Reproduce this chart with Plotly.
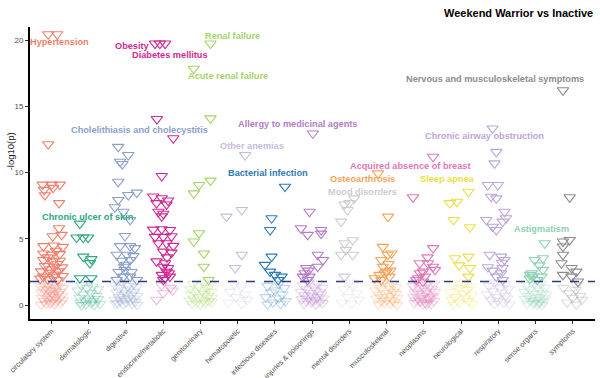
import plotly.graph_objects as go

# ---------------- data ----------------
categories = ["circulatory system", "dermatologic", "digestive", "endocrine/metabolic",
              "genitourinary", "hematopoietic", "infectious diseases", "injuries & poisonings",
              "mental disorders", "musculoskeletal", "neoplasms", "neurological",
              "respiratory", "sense organs", "symptoms"]

colors = ["#F07F6E", "#2CA77E", "#8C9FCB", "#CF2A93", "#A5D46A", "#C7BCDD", "#2C7BB6",
          "#B57CC6", "#CDCDCD", "#F6A35A", "#DF78B7", "#EBDF45", "#BCA7D8", "#8ED2B4", "#8C8C8C"]

threshold = 1.78

# -log10(p) values and horizontal jitter (in category units) per category
circ_y = [20.45, 20.45, 12.15, 9.1, 9.1, 9.1, 8.7, 8.85, 8.3, 7.7, 5.8, 5.2, 5.3, 4.45, 4.5, 4.4, 4.1,
          3.9, 3.8, 3.85, 3.6, 3.4, 3.3, 3.35, 3.1, 2.95, 2.9, 2.85, 2.7, 2.55, 2.45, 2.55, 2.3, 2.15,
          2.1, 2.2, 1.95, 1.9, 2.0,
          1.7, 1.65, 1.6, 1.5, 1.45, 1.4, 1.3, 1.25, 1.2, 1.1, 1.05, 1.0, 0.95, 0.9, 0.85, 0.8, 0.7,
          0.65, 0.6, 0.55, 0.5, 0.45, 0.4, 0.35, 0.3, 0.25, 0.2, 0.15, 0.1, 0.05, 0.02, 1.35, 1.15,
          0.75, 0.15]
circ_dx = [-0.09, 0.15, -0.09, -0.24, 0.0, 0.22, -0.2, 0.04, -0.18, 0.2, 0.2, 0.03, 0.27, -0.22, 0.06,
           0.3, 0.12, -0.22, 0.0, 0.22, -0.1, -0.22, 0.04, 0.22, 0.15, -0.18, 0.06, 0.28, -0.05, -0.28,
           -0.05, 0.18, 0.1, -0.22, 0.04, 0.3, -0.1, 0.16, -0.3,
           -0.25, 0.05, 0.25, -0.1, 0.15, -0.3, 0.3, 0.0, -0.2, 0.1, -0.05, 0.22, -0.27, 0.0, 0.18,
           -0.15, 0.28, -0.05, 0.1, -0.25, 0.2, -0.1, 0.05, 0.3, -0.2, 0.12, -0.02, 0.24, -0.15, 0.08,
           -0.28, 0.08, -0.12, 0.05, -0.05]

derm_y = [6.15, 5.1, 5.1, 5.1, 3.66, 3.47, 3.17, 2.03, 2.03,
          1.5, 1.4, 1.3, 1.2, 1.1, 0.9, 0.8, 0.7, 0.55, 0.5, 0.45, 0.35, 0.3, 0.2, 0.15, 0.1, 0.05,
          0.02, 0.0]
derm_dx = [-0.24, -0.33, -0.15, -0.02, -0.15, 0.07, 0.03, -0.24, 0.07,
           -0.2, 0.1, -0.05, 0.25, -0.3, 0.05, -0.15, 0.2, -0.25, 0.0, 0.25, -0.1, 0.12, -0.22, 0.05,
           0.3, -0.08, 0.15, -0.2]

dig_y = [11.95, 11.33, 10.82, 10.65, 9.31, 8.31, 8.49, 7.94, 7.39, 7.05, 6.43, 5.22, 4.45, 4.45, 4.3,
         3.8, 3.8, 3.7, 3.35, 3.4, 3.05, 2.9, 2.5, 2.65, 2.5, 2.15, 2.15, 1.9, 1.9,
         1.7, 1.6, 1.5, 1.45, 1.35, 1.3, 1.2, 1.1, 1.0, 0.95, 0.9, 0.8, 0.75, 0.7, 0.6, 0.55, 0.5,
         0.45, 0.4, 0.35, 0.3, 0.25, 0.2, 0.15, 0.1, 0.05, 0.02, 0.1]
dig_dx = [-0.21, 0.06, -0.16, -0.1, -0.21, 0.06, 0.29, -0.21, -0.3, -0.07, 0.11, -0.03, -0.16, 0.11,
          0.24, -0.25, 0.02, 0.2, -0.12, 0.11, 0.0, -0.05, -0.2, -0.03, 0.15, -0.07, 0.11, -0.25, 0.29,
          -0.1, 0.2, -0.3, 0.05, 0.28, -0.18, 0.1, -0.05, 0.22, -0.25, 0.0, 0.15, -0.12, 0.3, -0.2,
          0.05, 0.2, -0.05, -0.3, 0.12, -0.15, 0.25, 0.0, -0.22, 0.15, -0.08, 0.3, -0.28]

endo_y = [19.75, 19.75, 19.75, 14.05, 12.6, 9.75, 8.2, 8.07, 7.9, 7.7, 7.6, 7.05, 6.9, 6.7,
          5.7, 5.73, 5.67, 5.15, 5.15, 5.2, 4.67, 4.67, 4.47, 4.04, 3.96, 3.6, 3.3, 3.16, 2.9, 2.8,
          2.53, 2.4, 2.28, 2.15, 2.03, 1.9,
          1.5, 1.3, 1.1, 0.9, 0.4]
endo_dx = [-0.22, -0.09, 0.05, -0.17, 0.27, -0.04, -0.27, -0.04, 0.13, -0.18, 0.09, -0.13, 0.0, -0.04,
           -0.27, -0.04, 0.18, -0.22, 0.0, 0.22, -0.13, 0.09, 0.27, 0.0, 0.22, 0.1, -0.18, 0.05, 0.0,
           0.13, 0.09, 0.15, -0.04, 0.18, 0.05, 0.0,
           -0.05, 0.2, 0.25, 0.0, -0.18]

geni_y = [19.75, 17.85, 14.1, 9.4, 9.07, 8.44, 5.43, 4.8, 3.9, 2.9, 1.9,
          1.7, 1.6, 1.5, 1.4, 1.3, 1.2, 1.1, 1.0, 0.95, 0.85, 0.8, 0.7, 0.6, 0.55, 0.5, 0.4, 0.35,
          0.3, 0.25, 0.2, 0.15, 0.1, 0.05]
geni_dx = [0.27, -0.18, 0.27, 0.27, -0.04, -0.18, -0.04, -0.18, 0.09, 0.09, 0.22,
           0.1, -0.2, 0.25, -0.05, 0.15, -0.28, 0.05, 0.28, -0.15, 0.1, -0.25, 0.2, -0.05, 0.3, -0.2,
           0.08, -0.3, 0.22, 0.3, -0.1, 0.12, -0.22, 0.0]

hema_y = [11.33, 7.18, 6.68, 3.8, 2.8,
          1.6, 1.4, 1.0, 0.8, 0.6, 0.4, 0.2, 0.1]
hema_dx = [0.2, 0.11, -0.3, 0.11, -0.07,
           -0.1, 0.1, -0.2, 0.2, -0.05, 0.25, -0.25, 0.1]

infe_y = [8.94, 6.56, 5.67, 3.66, 3.04, 2.53, 2.28, 2.15, 1.9,
          1.6, 1.45, 1.3, 1.1, 0.95, 0.8, 0.6, 0.5, 0.3, 0.2, 0.1, 0.05]
infe_dx = [0.27, -0.09, -0.13, -0.09, -0.27, -0.13, 0.0, 0.18, 0.09,
           0.1, -0.2, 0.25, 0.0, -0.1, 0.2, -0.25, 0.1, 0.28, -0.05, 0.15, -0.2]

inju_y = [12.96, 7.05, 5.8, 5.3, 5.67, 5.4, 3.8, 3.4, 2.9, 2.8, 2.6, 2.41, 2.15, 2.15, 1.9,
          1.7, 1.6, 1.5, 1.4, 1.3, 1.2, 1.1, 1.0, 0.95, 0.9, 0.8, 0.75, 0.7, 0.6, 0.55, 0.5, 0.45,
          0.4, 0.35, 0.3, 0.25, 0.2, 0.15, 0.1, 0.05]
inju_dx = [0.02, -0.07, -0.3, -0.12, 0.24, 0.24, 0.15, 0.29, 0.15, -0.16, -0.1, -0.2, -0.25, -0.07, -0.12,
           -0.1, 0.15, -0.25, 0.05, 0.28, -0.15, 0.1, -0.3, 0.2, -0.05, 0.25, -0.2, 0.0, 0.15, -0.1,
           0.3, -0.28, 0.08, 0.0, -0.15, 0.2, -0.02, 0.28, -0.22, 0.1]

ment_y = [8.06, 7.7, 7.6, 7.18, 6.3, 4.9, 4.67, 4.17, 3.8, 3.8, 2.15,
          1.7, 1.5, 1.2, 0.9, 0.6, 0.4, 0.2, 0.1]
ment_dx = [0.13, 0.0, -0.13, -0.05, -0.22, 0.09, -0.13, -0.09, 0.09, -0.22, -0.13,
           0.0, 0.1, -0.15, 0.2, -0.05, 0.25, -0.2, 0.05]

musc_y = [9.95, 6.68, 4.4, 3.9, 3.8, 3.4, 3.1, 2.9, 2.6, 2.53, 2.4, 2.28, 2.15, 2.03, 1.9,
          1.7, 1.6, 1.5, 1.45, 1.35, 1.3, 1.2, 1.1, 1.0, 0.9, 0.85, 0.8, 0.7, 0.6, 0.55, 0.5, 0.4,
          0.35, 0.3, 0.2, 0.15, 0.1, 0.05, 0.02]
musc_dx = [-0.23, 0.04, -0.1, 0.13, 0.03, -0.14, 0.05, -0.1, 0.1, 0.0, -0.05, -0.19, 0.08, -0.32, -0.14,
           -0.1, 0.15, -0.25, 0.05, 0.25, -0.15, 0.1, -0.3, 0.2, -0.05, 0.25, -0.2, 0.1, -0.1, 0.28,
           -0.28, 0.0, 0.15, -0.15, 0.22, -0.05, 0.1, -0.22, 0.28]

neop_y = [11.2, 8.14, 4.3, 3.6, 3.16, 3.16, 2.9, 2.66, 2.53, 2.4, 2.15, 2.03, 1.9, 1.78,
          1.7, 1.65, 1.6, 1.5, 1.45, 1.4, 1.3, 1.25, 1.2, 1.1, 1.05, 1.0, 0.95, 0.9, 0.85, 0.8,
          0.7, 0.65, 0.6, 0.55, 0.5, 0.45, 0.4, 0.35, 0.3, 0.25, 0.2, 0.15, 0.1, 0.05, 0.02, 0.3,
          0.15, 0.6]
neop_dx = [0.25, -0.29, 0.25, 0.1, -0.11, 0.11, 0.25, 0.3, -0.02, -0.1, 0.03, -0.15, -0.2, -0.02,
           -0.2, 0.1, 0.28, -0.05, -0.3, 0.15, 0.0, -0.22, 0.22, -0.1, 0.08, 0.3, -0.25, 0.05, -0.15,
           0.2, -0.05, 0.25, -0.28, 0.1, -0.15, 0.15, 0.0, -0.22, 0.28, -0.08, 0.12, -0.25, 0.2, -0.02,
           0.08, -0.12, 0.05, 0.15]

neur_y = [8.56, 7.8, 7.7, 6.43, 5.88, 3.66, 3.54, 3.0, 2.8, 2.15,
          1.7, 1.55, 1.4, 1.3, 1.15, 1.0, 0.9, 0.75, 0.6, 0.5, 0.4, 0.3, 0.2, 0.1, 0.05]
neur_dx = [0.2, -0.11, -0.3, -0.2, 0.24, 0.2, -0.16, -0.05, 0.24, 0.2,
           0.1, -0.2, 0.25, -0.05, 0.15, -0.28, 0.05, 0.28, -0.15, 0.1, -0.25, 0.2, -0.05, 0.3, -0.2]

resp_y = [13.34, 11.57, 10.7, 9.07, 9.07, 8.18, 8.06, 7.05, 6.56, 6.43, 6.3, 5.92, 5.67,
          3.8, 3.66, 3.41, 3.2, 2.86, 2.8, 2.6, 2.41, 2.15, 1.9,
          1.7, 1.6, 1.45, 1.3, 1.2, 1.05, 0.95, 0.8, 0.7, 0.6, 0.5, 0.4, 0.3, 0.2, 0.1, 0.05]
resp_dx = [-0.15, -0.05, -0.1, -0.28, -0.01, -0.19, -0.05, 0.17, 0.21, -0.32, 0.12, -0.15, -0.05,
           -0.23, 0.08, 0.17, 0.1, -0.28, 0.12, -0.15, 0.08, -0.05, 0.12,
           -0.1, 0.2, -0.25, 0.05, 0.28, -0.15, 0.1, -0.3, 0.2, -0.05, 0.25, -0.2, 0.0, 0.15, -0.1, 0.3]

sens_y = [4.67, 3.54, 3.41, 3.0, 2.66, 2.4, 2.28, 2.15, 2.15, 2.0, 1.9,
          1.7, 1.6, 1.5, 1.4, 1.3, 1.2, 1.1, 1.0, 0.9, 0.85, 0.8, 0.7, 0.6, 0.55, 0.5, 0.45, 0.4,
          0.35, 0.3, 0.25, 0.2, 0.15, 0.1, 0.05, 0.02, 0.1, 0.2]
sens_dx = [0.25, 0.2, -0.02, 0.1, 0.2, -0.1, -0.15, -0.07, 0.16, -0.15, 0.05,
           -0.1, 0.15, -0.25, 0.05, 0.25, -0.15, 0.1, -0.3, 0.2, -0.05, 0.28, -0.2, 0.1, -0.1, 0.25,
           -0.28, 0.0, 0.15, -0.15, 0.22, -0.05, 0.1, -0.22, 0.05, 0.18, -0.05, 0.1]

symp_y = [16.22, 8.14, 4.92, 4.8, 4.42, 3.8, 3.16, 2.8, 2.53, 2.28, 2.15, 1.78,
          1.5, 1.3, 1.15, 0.9, 0.7, 0.55, 0.4, 0.2, 0.05]
symp_dx = [-0.26, -0.08, -0.08, -0.26, -0.26, -0.26, -0.3, -0.03, 0.1, -0.26, -0.03, 0.14,
           0.1, -0.25, 0.08, -0.1, 0.2, 0.0, 0.25, -0.15, 0.1]

all_y = [circ_y, derm_y, dig_y, endo_y, geni_y, hema_y, infe_y, inju_y, ment_y, musc_y,
         neop_y, neur_y, resp_y, sens_y, symp_y]
all_dx = [circ_dx, derm_dx, dig_dx, endo_dx, geni_dx, hema_dx, infe_dx, inju_dx, ment_dx, musc_dx,
          neop_dx, neur_dx, resp_dx, sens_dx, symp_dx]

# labelled phenotypes: text, category index, label anchor (x, y in data units)
label_text = ["Hypertension", "Obesity", "Diabetes mellitus", "Renal failure", "Acute renal failure",
              "Nervous and musculoskeletal symptoms", "Cholelithiasis and cholecystitis",
              "Allergy to medicinal agents", "Chronic airway obstruction", "Other anemias",
              "Acquired absence of breast", "Bacterial infection", "Osteoarthrosis", "Sleep apnea",
              "Mood disorders", "Chronic ulcer of skin", "Astigmatism"]
label_cat = [0, 3, 3, 4, 4, 14, 2, 7, 12, 5, 10, 6, 9, 11, 8, 1, 13]
label_x = [1.21, 3.17, 4.18, 5.86, 5.74, 12.90, 3.37, 7.62, 12.63, 6.38, 10.64, 6.82, 9.36, 11.65,
           9.36, 1.98, 14.17]
label_y = [19.9, 19.6, 18.85, 20.29, 17.3, 17.05, 13.26, 13.7, 12.76, 12.0, 10.52, 10.0, 9.49, 9.49,
           8.52, 6.68, 5.73]


def rgba(hexc, a):
    h = hexc.lstrip("#")
    r, g, b = int(h[0:2], 16), int(h[2:4], 16), int(h[4:6], 16)
    return f"rgba({r},{g},{b},{a})"


fig = go.Figure()

# faded (non-significant) points first, then significant ones
for pass_sig in (False, True):
    for i, cat in enumerate(categories):
        xs, ys = [], []
        for y, dx in zip(all_y[i], all_dx[i]):
            sig = y >= threshold
            if sig != pass_sig:
                continue
            xs.append(i + 1 + dx)
            ys.append(y)
        if not xs:
            continue
        col = colors[i] if pass_sig else rgba(colors[i], 0.3)
        fig.add_trace(go.Scatter(
            x=xs, y=ys, mode="markers", showlegend=False, hoverinfo="skip",
            marker=dict(symbol="triangle-down-open", size=10, color=col,
                        line=dict(width=1.1, color=col))))

# threshold line
fig.add_hline(y=threshold, line=dict(color="#2B3A8C", width=1.5, dash="dash"))

for t, c, x, y in zip(label_text, label_cat, label_x, label_y):
    fig.add_annotation(x=x, y=y, text=f"<b>{t}</b>", showarrow=False,
                       font=dict(size=9.2, color=colors[c], family="Liberation Sans, Arial"),
                       xanchor="center", yanchor="middle")

# y-axis title
fig.add_annotation(x=-0.035, y=0.575, xref="paper", yref="paper", text="-log10(p)",
                   textangle=-90, showarrow=False, xanchor="center", yanchor="middle",
                   font=dict(size=9.5, color="#1a1a1a", family="Liberation Sans, Arial"))

# chart title (top right)
fig.add_annotation(x=1, y=1.048, xref="paper", yref="paper",
                   text="<b>Weekend Warrior vs Inactive</b>", showarrow=False,
                   xanchor="right", yanchor="middle",
                   font=dict(size=11, color="black", family="Liberation Sans, Arial"))

fig.update_layout(
    width=600, height=378,
    margin=dict(l=30, r=5, t=27, b=59, autoexpand=False),
    paper_bgcolor="white", plot_bgcolor="white",
    font=dict(family="Liberation Sans, Arial"),
    xaxis=dict(range=[0.42, 15.6], tickmode="array", tickvals=list(range(1, 16)),
               ticktext=categories, tickangle=-45, showgrid=False, zeroline=False,
               showline=True, linecolor="black", linewidth=2, ticks="outside", ticklen=3,
               tickcolor="#333", tickfont=dict(size=7.3, color="#4d4d4d"), automargin=False),
    yaxis=dict(range=[-1.05, 21.0], tickvals=[0, 5, 10, 15, 20], showgrid=False, zeroline=False,
               showline=True, linecolor="black", linewidth=2, ticks="outside", ticklen=3,
               tickcolor="#333", tickfont=dict(size=8, color="#4d4d4d"), automargin=False),
)

fig.write_html("out.html", config={"displayModeBar": False},
               post_script="document.body.style.margin='0px';document.body.style.overflow='hidden';")
